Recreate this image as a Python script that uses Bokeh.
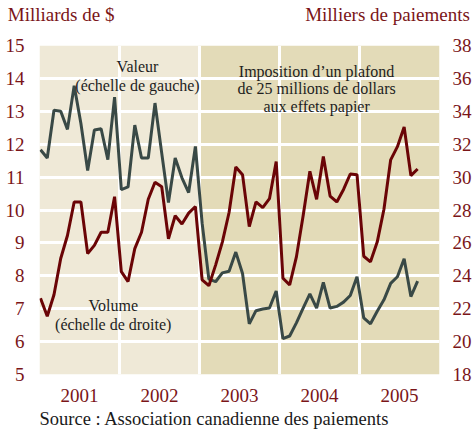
from bokeh.plotting import figure
from bokeh.models import (Range1d, LinearAxis, FixedTicker, Label, Title,
                          CustomJSTickFormatter)
from bokeh.embed import file_html
from bokeh.resources import INLINE

# ---- data (monthly, Jan 2001 - Sep 2005) ----
years = ["2001", "2002", "2003", "2004", "2005"]
valeur = [11.83, 11.58, 13.03, 13.00, 12.45, 13.78, 12.63, 11.20, 12.43, 12.47, 11.53, 13.43,
          10.62, 10.70, 12.58, 11.58, 11.58, 13.25, 11.73, 10.23, 11.58, 10.98, 10.53, 11.93,
          9.60, 7.90, 7.82, 8.09, 8.14, 8.72, 8.07, 6.54, 6.94, 6.99, 7.02, 7.54,
          6.09, 6.17, 6.57, 7.02, 7.45, 7.02, 7.80, 7.02, 7.07, 7.20, 7.40, 7.97,
          6.72, 6.54, 6.92, 7.27, 7.77, 7.97, 8.52, 7.37, 7.84]
volume = [22.64, 21.54, 22.85, 25.05, 26.45, 28.49, 28.49, 25.35, 25.85, 26.65, 26.65, 28.81,
          24.25, 23.65, 25.65, 26.65, 28.65, 29.69, 29.41, 26.25, 27.65, 27.15, 27.81, 28.21,
          23.75, 23.40, 24.65, 26.05, 27.85, 30.61, 30.15, 26.99, 28.49, 28.15, 28.69, 30.95,
          23.85, 23.45, 25.15, 27.65, 30.35, 28.65, 31.25, 28.85, 28.49, 29.25, 30.19, 30.15,
          25.19, 24.85, 26.05, 28.05, 31.05, 31.85, 33.05, 30.09, 30.49]
left_ticks = list(range(5, 16))
right_ticks = list(range(18, 39, 2))
axis_titles = ["Milliards de $", "Milliers de paiements"]

months = list(range(len(valeur)))

RED = "#7a1518"
LINE_RED = "#6a0406"
LINE_GRAY = "#394946"
LIGHT = "#efe9d7"
DARK = "#e3dbb8"
FONT = "Liberation Serif"

x0, x1 = -0.15, 59.25
p = figure(width=474, height=435, output_backend="svg", toolbar_location=None,
           x_range=Range1d(x0, x1), y_range=Range1d(5, 15),
           min_border_left=39, min_border_right=34, min_border_top=41,
           min_border_bottom=61, outline_line_color=None,
           background_fill_color="white", border_fill_color="white")

p.extra_y_ranges = {"vol": Range1d(18, 38)}
p.extra_x_ranges = {"yr": Range1d(2001, 2006)}

span = (x1 - x0) / 5.0
bounds = [x0 + k * span for k in range(6)]

# background bands
p.quad(left=bounds[0], right=bounds[2], bottom=5, top=15, fill_color=LIGHT,
       line_color=None, level="image")
p.quad(left=bounds[2], right=bounds[5], bottom=5, top=15, fill_color=DARK,
       line_color=None, level="image")

# grids
p.xgrid.ticker = FixedTicker(ticks=bounds[1:5])
p.ygrid.ticker = FixedTicker(ticks=left_ticks[1:-1])
for g in (p.xgrid[0], p.ygrid[0]):
    g.grid_line_color = "white"
    g.grid_line_width = 3

# lines
p.line(months, valeur, line_color=LINE_GRAY, line_width=3)
p.line(months, volume, line_color=LINE_RED, line_width=3, y_range_name="vol")

# axes
p.xaxis.visible = False
p.yaxis.ticker = FixedTicker(ticks=left_ticks)
right = LinearAxis(y_range_name="vol", ticker=FixedTicker(ticks=right_ticks))
p.add_layout(right, "right")
bottom = LinearAxis(x_range_name="yr",
                    ticker=FixedTicker(ticks=[int(y) + 0.5 for y in years]),
                    formatter=CustomJSTickFormatter(code="return Math.floor(tick).toString()"))
p.add_layout(bottom, "below")

# axis titles on top row (left and right)
top = LinearAxis(x_range_name="yr",
                 ticker=FixedTicker(ticks=[2001.27, 2005.35]),
                 formatter=CustomJSTickFormatter(
                     args=dict(names=axis_titles),
                     code="return index == 0 ? names[0] : names[1]"))
p.add_layout(top, "above")

for ax in (p.yaxis[0], right, bottom, top):
    ax.axis_line_color = None
    ax.major_tick_line_color = None
    ax.minor_tick_line_color = None
    ax.major_label_text_color = RED
    ax.major_label_text_font = FONT
    ax.major_label_text_font_size = "19px"
    ax.major_label_standoff = 9
right.major_label_standoff = 7
bottom.major_label_standoff = 8
top.major_label_standoff = 15

# annotations
def note(x, y, t):
    p.add_layout(Label(x=x, y=y, text=t, text_font=FONT, text_font_size="16px",
                       text_color="#1e1e1e", text_align="center",
                       text_baseline="middle"))

note(14.4, 14.37, "Valeur")
note(14.4, 13.77, "(échelle de gauche)")
note(41.0, 14.22, "Imposition d\u2019un plafond")
note(41.0, 13.68, "de 25 millions de dollars")
note(41.0, 13.14, "aux effets papier")
note(10.8, 7.10, "Volume")
note(10.8, 6.53, "(échelle de droite)")

p.add_layout(Title(text="Source : Association canadienne des paiements",
                   align="left", text_font=FONT, text_font_size="18.5px",
                   text_font_style="normal", text_color="#1a1a1a",
                   standoff=4), "below")

open("out.html", "w").write(file_html(p, INLINE))
